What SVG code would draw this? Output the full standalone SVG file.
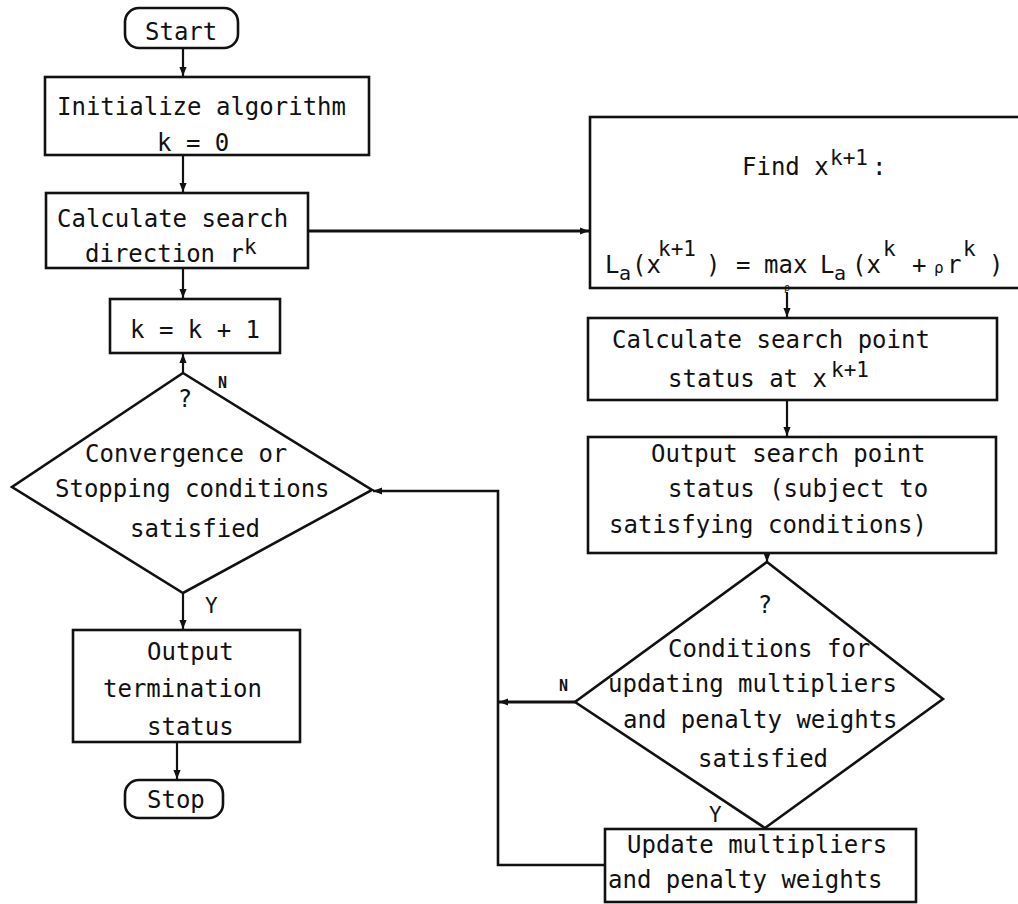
<svg xmlns="http://www.w3.org/2000/svg" width="1018" height="904" viewBox="0 0 1018 904">
<defs>
<style>
.shape{fill:none;stroke:#111;stroke-width:2.6}
.conn{fill:none;stroke:#111;stroke-width:2.2}
text{font-family:"DejaVu Sans Mono","Liberation Mono",monospace;font-size:24px;fill:#111}
.sup{font-size:21px}
.sub{font-size:20px}
.lbl{font-size:15px;font-weight:bold}
.yl{font-size:21px}
</style>
<marker id="ah" viewBox="0 0 10 10" refX="10" refY="5" markerWidth="9" markerHeight="9" markerUnits="userSpaceOnUse" orient="auto">
<path d="M0,1 L10,5 L0,9 Z" fill="#111"/>
</marker>
</defs>
<rect width="1018" height="904" fill="#fff"/>

<g id="connectors">
<path class="conn" d="M183,48 V76" marker-end="url(#ah)"/>
<path class="conn" d="M183,155 V192" marker-end="url(#ah)"/>
<path class="conn" d="M183,268 V298" marker-end="url(#ah)"/>
<path class="conn" d="M308,231 H589" marker-end="url(#ah)" style="stroke-width:3"/>
<path class="conn" d="M183,373 V354" marker-end="url(#ah)"/>
<path class="conn" d="M183,593 V629" marker-end="url(#ah)"/>
<path class="conn" d="M177,742 V779" marker-end="url(#ah)"/>
<path class="conn" d="M787,292 V317" marker-end="url(#ah)"/>
<path class="conn" d="M787,400 V436" marker-end="url(#ah)"/>
<path class="conn" d="M767,553 V562" marker-end="url(#ah)"/>
<path class="conn" d="M575,702 H499" marker-end="url(#ah)" style="stroke-width:3"/>
<path class="conn" d="M605,865 H498 V491 H373" marker-end="url(#ah)" style="stroke-width:2.6"/>
<text class="lbl" x="218" y="388">N</text>
<text class="yl" x="205" y="613">Y</text>
<text class="lbl" x="559" y="691">N</text>
<text class="yl" x="709" y="822">Y</text>
</g>

<g id="start">
<rect class="shape" x="125" y="8" width="113" height="40" rx="14"/>
<text x="145" y="40">Start</text>
</g>

<g id="init">
<rect class="shape" x="45" y="77" width="324" height="78"/>
<text x="57" y="115">Initialize algorithm</text>
<text x="157" y="151">k = 0</text>
</g>

<g id="calc-direction">
<rect class="shape" x="46" y="193" width="262" height="75"/>
<text x="57" y="227">Calculate search</text>
<text x="85" y="262">direction r<tspan class="sup" y="254">k</tspan></text>
</g>

<g id="increment">
<rect class="shape" x="110" y="299" width="170" height="54"/>
<text x="130" y="338">k = k + 1</text>
</g>

<g id="convergence">
<polygon class="shape" points="183,373 372,490 183,593 12,487"/>
<text x="185" y="407" text-anchor="middle">?</text>
<text x="85" y="462">Convergence or</text>
<text x="55" y="497">Stopping conditions</text>
<text x="130" y="537">satisfied</text>
</g>

<g id="output-termination">
<rect class="shape" x="73" y="630" width="227" height="112"/>
<text x="147" y="660">Output</text>
<text x="103" y="697">termination</text>
<text x="147" y="735">status</text>
</g>

<g id="stop">
<rect class="shape" x="125" y="780" width="98" height="38" rx="14"/>
<text x="147" y="808">Stop</text>
</g>

<g id="find">
<rect class="shape" x="590" y="117" width="440" height="171"/>
<text x="742" y="175">Find x<tspan class="sup" x="830" y="165">k+1</tspan><tspan x="872" y="175">:</tspan></text>
<text y="273"><tspan x="605">L</tspan><tspan class="sub" x="619" y="280">a</tspan><tspan x="632" y="273">(x</tspan><tspan class="sup" x="658" y="256">k+1</tspan><tspan x="706" y="273">)</tspan><tspan x="736" y="273">=</tspan><tspan x="764" y="273">max</tspan><tspan x="820" y="273">L</tspan><tspan class="sub" x="834" y="280">a</tspan><tspan x="852" y="273">(x</tspan><tspan class="sup" x="883" y="256">k</tspan><tspan x="912" y="273">+</tspan><tspan x="934" y="273" style="font-size:16px">ρ</tspan><tspan x="947" y="273">r</tspan><tspan class="sup" x="963" y="256">k</tspan><tspan x="989" y="273">)</tspan></text>
<text x="787" y="291" text-anchor="middle" style="font-size:10px">ρ</text>
</g>

<g id="calc-point">
<rect class="shape" x="588" y="318" width="409" height="82"/>
<text x="612" y="348">Calculate search point</text>
<text x="668" y="387">status at x<tspan class="sup" x="831" y="377">k+1</tspan></text>
</g>

<g id="output-point">
<rect class="shape" x="588" y="437" width="408" height="116"/>
<text x="651" y="462">Output search point</text>
<text x="668" y="497">status (subject to</text>
<text x="609" y="533">satisfying conditions)</text>
</g>

<g id="update-check">
<polygon class="shape" points="767,562 943,699 765,828 575,702"/>
<text x="765" y="613" text-anchor="middle">?</text>
<text x="668" y="657">Conditions for</text>
<text x="608" y="692">updating multipliers</text>
<text x="623" y="728">and penalty weights</text>
<text x="698" y="767">satisfied</text>
</g>

<g id="update">
<rect class="shape" x="605" y="829" width="311" height="73"/>
<text x="627" y="853">Update multipliers</text>
<text x="608" y="888">and penalty weights</text>
</g>
</svg>
